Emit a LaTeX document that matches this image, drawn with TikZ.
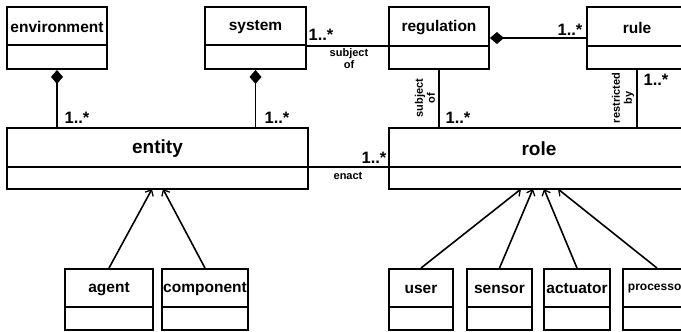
\documentclass[tikz,border=0pt]{standalone}
\usepackage{fontspec}
\setmainfont{Liberation Sans}
\usetikzlibrary{arrows.meta,fit}
\tikzset{
  box/.style={draw, line width=1.9pt, inner sep=0pt},
  divline/.style={line width=1.7pt},
  conn/.style={line width=1.6pt},
  gen/.style={conn, -{Straight Barb[length=5pt,width=9pt,line width=1.3pt]}},
  comp/.style={conn, {Diamond[length=14pt,width=12pt]}-},
  mult/.style={font=\fontsize{16.5}{18}\selectfont\bfseries, inner sep=0pt},
  small/.style={font=\fontsize{11}{12}\selectfont\bfseries, inner sep=0pt, align=center},
  big/.style={font=\fontsize{15.5}{18}\selectfont\bfseries, inner sep=0pt},
  huge/.style={font=\fontsize{19}{22}\selectfont\bfseries, inner sep=0pt},
  tiny/.style={font=\fontsize{12}{14}\selectfont\bfseries, inner sep=0pt},
}
% #1 name, #2 left, #3 top, #4 right, #5 bottom, #6 divider y, #7 text style, #8 text
\newcommand{\umlcls}[8]{%
  \node[box, fit={(#2,#3) (#4,#5)}] (#1) {};
  \draw[divline] (#2,#6) -- (#4,#6);
  \node[#7] (#1-t) at ({(#2+#4)/2},{(#3+#6)/2+1}) {#8};
}
\begin{document}
\begin{tikzpicture}[x=1pt,y=-1pt]
\useasboundingbox (0,0) rectangle (681,332);
\clip (0,0) rectangle (681,332);
\fill[white] (0,0) rectangle (681,332);

\umlcls{env}{7}{7}{107}{69}{45}{big}{environment}
\umlcls{sys}{205}{7}{306}{69}{45}{big}{system}
\umlcls{reg}{389}{7}{489}{69}{46}{big}{regulation}
\umlcls{rule}{587}{7}{687}{69}{46}{big}{rule}
\umlcls{entity}{7}{128}{308}{189}{167}{huge}{entity}
\umlcls{role}{389}{128}{689}{189}{167}{huge}{role}
\umlcls{agent}{65}{269}{153}{330}{307}{big}{agent}
\umlcls{compo}{162}{269}{248}{330}{307}{big}{component}
\umlcls{user}{389}{269}{453}{330}{307}{big}{user}
\umlcls{sensor}{467}{269}{532}{330}{307}{big}{sensor}
\umlcls{act}{544}{269}{610}{330}{307}{big}{actuator}
\umlcls{proc}{623}{269}{691}{330}{307}{tiny}{processor}

% compositions
\draw[comp] (env.south) -- (env.south |- entity.north);
\draw[comp] (sys.south) -- (sys.south |- entity.north);
\draw[comp] (reg.east |- 0,38) -- (rule.west |- 0,38);

% associations
\draw[conn] (sys.east |- 0,46) -- (reg.west |- 0,46);
\draw[conn] (reg.south) -- (reg.south |- role.north);
\draw[conn] (rule.south) -- (rule.south |- role.north);
\draw[conn] (entity.east |- 0,167) -- (role.west |- 0,167);

% generalizations
\coordinate (e1) at (152,189);
\coordinate (e2) at (163,189);
\coordinate (r1) at (521,189);
\coordinate (r2) at (533,189);
\coordinate (r3) at (544,189);
\coordinate (r4) at (558,189);
\draw[gen] (agent.north) -- (e1);
\draw[gen] (compo.north) -- (e2);
\draw[gen] (user.north) -- (r1);
\draw[gen] (sensor.north) -- (r2);
\draw[gen] (act.north) -- (r3);
\draw[gen] (proc.north) -- (r4);

% multiplicities
\node[mult] (m1) at (77,118) {1..*};
\node[mult] (m2) at (277,118) {1..*};
\node[mult] (m3) at (321,35) {1..*};
\node[mult] (m4) at (570,30) {1..*};
\node[mult] (m5) at (458,118) {1..*};
\node[mult] (m6) at (656,80) {1..*};
\node[mult] (m7) at (374,158) {1..*};

% role labels
\node[small] (l1) at (349,59) {subject\\of};
\node[small, rotate=90] (l2) at (425,98) {subject\\of};
\node[small, rotate=90] (l3) at (623,98) {restricted\\by};
\node[small] (l4) at (348,176) {enact};
\end{tikzpicture}
\end{document}
